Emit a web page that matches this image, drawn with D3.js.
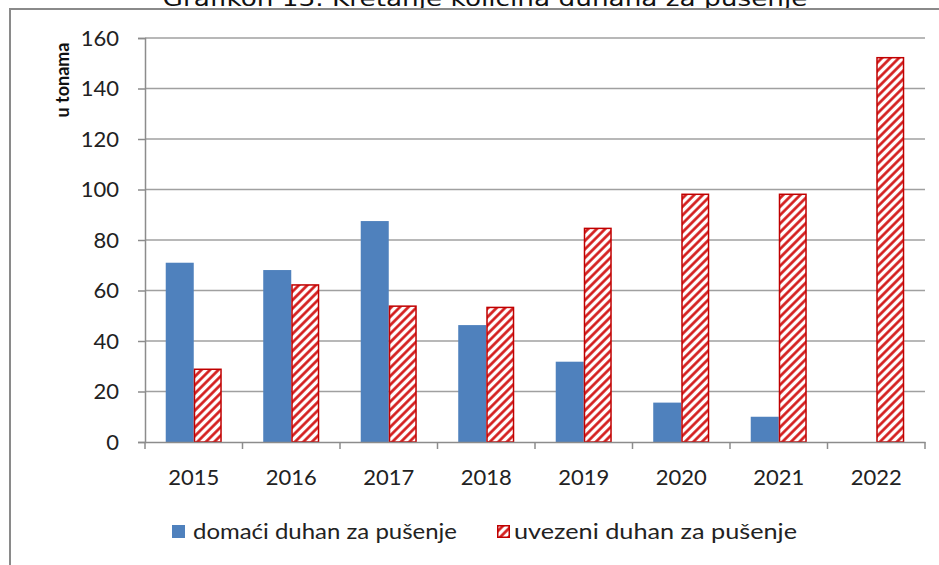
<!DOCTYPE html>
<html><head><meta charset="utf-8">
<script src="https://cdn.jsdelivr.net/npm/d3@7/dist/d3.min.js"></script>
<style>html,body{margin:0;padding:0;background:#fff;overflow:hidden}</style>
</head><body>
<script>
const title = "Grafikon 13. Kretanje količina duhana za pušenje";
const yAxisTitle = "u tonama";
const years = ["2015","2016","2017","2018","2019","2020","2021","2022"];
const seriesNames = ["domaći duhan za pušenje","uvezeni duhan za pušenje"];
const domaci = [71.0, 68.1, 87.5, 46.3, 31.8, 15.6, 10.0, 0];
const uvezeni = [28.8, 62.2, 53.8, 53.3, 84.6, 98.1, 98.1, 152.2];
const yTicks = [0,20,40,60,80,100,120,140,160];

const W = 939, H = 565;
const svg = d3.select("body").append("svg").attr("width", W).attr("height", H);
const defs = svg.append("defs");
const pat = defs.append("pattern").attr("id","hatch").attr("patternUnits","userSpaceOnUse")
  .attr("width",6).attr("height",6).attr("patternTransform","rotate(45)");
pat.append("rect").attr("width",6).attr("height",6).attr("fill","#fff");
pat.append("line").attr("x1",1.5).attr("y1",0).attr("x2",1.5).attr("y2",6)
  .attr("stroke","#d21414").attr("stroke-width",2.6);

// title (clipped at the top edge, as in the reference)
svg.append("text").attr("x",485).attr("y",6).attr("text-anchor","middle")
  .attr("font-family","DejaVu Sans").attr("font-size",22).attr("fill","#111")
  .attr("textLength",645).attr("lengthAdjust","spacingAndGlyphs").text(title);

// outer border
svg.append("path").attr("d","M10,565 L10,9 L945,9").attr("fill","none")
  .attr("stroke","#8a8a8a").attr("stroke-width",2);

const x0 = d3.scaleBand().domain(years).range([145,925]).paddingInner(0).paddingOuter(0);
const x1 = d3.scaleBand().domain(seriesNames).range([0,x0.bandwidth()]).paddingInner(0).paddingOuter(0.74);
const y = d3.scaleLinear().domain([0,160]).range([442,38]);

const font = "Lato, 'Open Sans', sans-serif";

// gridlines
svg.append("g").selectAll("line").data(yTicks.filter(d=>d>0)).join("line")
  .attr("x1",145).attr("x2",925).attr("y1",d=>y(d)).attr("y2",d=>y(d))
  .attr("stroke","#a0a0a0").attr("stroke-width",1.5);

// y axis
const yAxis = svg.append("g").attr("transform","translate(145,0)")
  .call(d3.axisLeft(y).tickValues(yTicks).tickSize(7).tickPadding(19));
yAxis.select(".domain").attr("stroke","#8c8c8c").attr("stroke-width",1.5);
yAxis.selectAll(".tick line").attr("stroke","#8c8c8c").attr("stroke-width",1.5);
yAxis.selectAll("text").attr("font-family",font).attr("font-size",22).attr("fill","#222");

// bars
const groups = svg.append("g").selectAll("g").data(years).join("g")
  .attr("transform",d=>`translate(${x0(d)},0)`);
groups.append("rect").attr("x",x1(seriesNames[0])).attr("width",x1.bandwidth())
  .attr("y",(d,i)=>y(domaci[i])).attr("height",(d,i)=>y(0)-y(domaci[i]))
  .attr("fill","#4f81bd");
groups.append("rect").attr("x",x1(seriesNames[1])+0.75).attr("width",x1.bandwidth()-1.5)
  .attr("y",(d,i)=>y(uvezeni[i])).attr("height",(d,i)=>y(0)-y(uvezeni[i]))
  .attr("fill","url(#hatch)").attr("stroke","#c00000").attr("stroke-width",1.5);

// x axis
const xAxis = svg.append("g").attr("transform","translate(0,442)")
  .call(d3.axisBottom(x0).tickSize(0).tickPadding(27));
xAxis.select(".domain").attr("stroke","#8c8c8c").attr("stroke-width",1.5);
xAxis.selectAll("text").attr("font-family",font).attr("font-size",22).attr("fill","#222");
svg.append("g").selectAll("line").data(years.concat(["end"])).join("line")
  .attr("x1",(d,i)=>i<years.length?x0(d):x0(years[years.length-1])+x0.bandwidth())
  .attr("x2",(d,i)=>i<years.length?x0(d):x0(years[years.length-1])+x0.bandwidth())
  .attr("y1",442).attr("y2",449).attr("stroke","#8c8c8c").attr("stroke-width",1.5);

// y axis title
svg.append("text").attr("transform","translate(69,80) rotate(-90)").attr("text-anchor","middle")
  .attr("font-family",font).attr("font-weight","bold").attr("font-size",18).attr("fill","#111")
  .text(yAxisTitle);

// legend
const leg = svg.append("g");
leg.append("rect").attr("x",172).attr("y",525).attr("width",13).attr("height",13).attr("fill","#4f81bd");
leg.append("text").attr("x",193).attr("y",539).attr("font-family",font).attr("font-size",22).attr("fill","#222")
  .attr("textLength",264).attr("lengthAdjust","spacingAndGlyphs").text(seriesNames[0]);
leg.append("rect").attr("x",497.75).attr("y",525.75).attr("width",11.5).attr("height",11.5)
  .attr("fill","url(#hatch)").attr("stroke","#c00000").attr("stroke-width",1.5);
leg.append("text").attr("x",514).attr("y",539).attr("font-family",font).attr("font-size",22).attr("fill","#222")
  .attr("textLength",283).attr("lengthAdjust","spacingAndGlyphs").text(seriesNames[1]);
</script>
</body></html>
